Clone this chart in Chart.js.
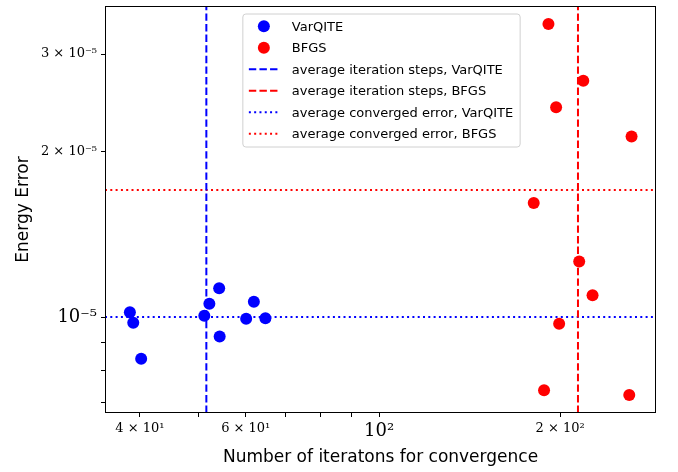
<!DOCTYPE html>
<html>
<head>
<meta charset="utf-8">
<script src="https://cdn.jsdelivr.net/npm/chart.js@4.4.1/dist/chart.umd.min.js"></script>
<style>
  html, body { margin: 0; padding: 0; background: #fff; }
  #wrap { width: 678px; height: 472px; }
</style>
</head>
<body>
<div id="wrap"><canvas id="chart"></canvas></div>
<script>
// iterations needed to converge and the final energy error, one entry per run
const varqiteIters = [38.5, 39.0, 40.2, 51.2, 52.2, 54.2, 54.3, 60.1, 61.9, 64.7];
const varqiteErrors = [1.021e-5, 0.977e-5, 0.840e-5, 1.006e-5, 1.057e-5, 1.128e-5, 0.922e-5, 0.993e-5, 1.066e-5, 0.995e-5];
const bfgsIters = [191.3, 218.6, 197.0, 263.0, 180.8, 215.2, 226.5, 199.3, 188.1, 260.7];
const bfgsErrors = [3.40e-5, 2.684e-5, 2.402e-5, 2.126e-5, 1.611e-5, 1.262e-5, 1.096e-5, 0.973e-5, 0.737e-5, 0.722e-5];

// averages (reference lines)
const varqiteAvgIter = 51.6;
const bfgsAvgIter = 214.2;
const varqiteAvgError = 1.0e-5;
const bfgsAvgError = 1.70e-5;

// axis limits
const xMin = 35.0, xMax = 288.8;
const yMin = 6.70e-6, yMax = 3.667e-5;

// tick marks and their labels ('' = unlabeled minor tick)
const xTickValues = [40, 50, 60, 70, 80, 90, 100, 200];
const xTickLabels = ['4 × 10¹', '', '6 × 10¹', '', '', '', '10²', '2 × 10²'];
const yTickValues = [7e-6, 8e-6, 9e-6, 1e-5, 2e-5, 3e-5];
const yTickLabels = ['', '', '', '10⁻⁵', '2 × 10⁻⁵', '3 × 10⁻⁵'];

const BLUE = '#0000ff';
const RED = '#ff0000';
const DASH = [7.4, 3.2];
const DOT = [2, 3.3];

function toPoints(xs, ys) {
    return xs.map((x, i) => ({ x: x, y: ys[i] }));
}

// box around the plot like matplotlib
const framePlugin = {
    id: 'frame',
    afterDatasetsDraw(chart) {
        const { ctx, chartArea: a } = chart;
        ctx.save();
        ctx.strokeStyle = '#000';
        ctx.lineWidth = 1;
        ctx.strokeRect(a.left + 0.5, a.top + 0.5, a.right - a.left - 1, a.bottom - a.top - 1);
        ctx.restore();
    }
};

// legend drawn inside the plot, upper center
const legendPlugin = {
    id: 'innerLegend',
    afterDraw(chart) {
        const { ctx, chartArea: a } = chart;
        const sets = chart.data.datasets;
        ctx.save();
        ctx.font = '13px "DejaVu Sans"';
        let maxW = 0;
        sets.forEach(d => { maxW = Math.max(maxW, ctx.measureText(d.label).width); });
        const rowH = 21.5;
        const w = 49 + maxW + 7;
        const h = sets.length * rowH + 4;
        const x0 = (a.left + a.right) / 2 - w / 2 + 1;
        const y0 = a.top + 8;

        ctx.beginPath();
        ctx.roundRect(x0, y0, w, h, 3);
        ctx.fillStyle = 'rgba(255,255,255,0.8)';
        ctx.fill();
        ctx.strokeStyle = '#d0d0d0';
        ctx.lineWidth = 1;
        ctx.stroke();

        sets.forEach((d, i) => {
            const cy = y0 + 12.3 + i * rowH;
            if (d.showLine) {
                ctx.beginPath();
                ctx.setLineDash(d.borderDash || []);
                ctx.strokeStyle = d.borderColor;
                ctx.lineWidth = d.borderWidth;
                ctx.moveTo(x0 + 6, cy);
                ctx.lineTo(x0 + 37, cy);
                ctx.stroke();
                ctx.setLineDash([]);
            } else {
                ctx.beginPath();
                ctx.arc(x0 + 21, cy, 6, 0, Math.PI * 2);
                ctx.fillStyle = d.backgroundColor;
                ctx.fill();
            }
            ctx.fillStyle = '#000';
            ctx.textBaseline = 'middle';
            ctx.fillText(d.label, x0 + 49, cy + 1);
        });
        ctx.restore();
    }
};

function vLine(label, x, color, dash) {
    return {
        label: label,
        data: [{ x: x, y: yMin }, { x: x, y: yMax }],
        showLine: true,
        pointRadius: 0,
        borderColor: color,
        borderWidth: 2,
        borderDash: dash,
        fill: false
    };
}

function hLine(label, y, color, dash) {
    return {
        label: label,
        data: [{ x: xMin, y: y }, { x: xMax, y: y }],
        showLine: true,
        pointRadius: 0,
        borderColor: color,
        borderWidth: 2,
        borderDash: dash,
        fill: false
    };
}

const ctx = document.getElementById('chart').getContext('2d');
const chart = new Chart(ctx, {
    type: 'scatter',
    data: {
        datasets: [
            {
                label: 'VarQITE',
                data: toPoints(varqiteIters, varqiteErrors),
                backgroundColor: BLUE,
                borderWidth: 0,
                pointRadius: 6
            },
            {
                label: 'BFGS',
                data: toPoints(bfgsIters, bfgsErrors),
                backgroundColor: RED,
                borderWidth: 0,
                pointRadius: 6
            },
            vLine('average iteration steps, VarQITE', varqiteAvgIter, BLUE, DASH),
            vLine('average iteration steps, BFGS', bfgsAvgIter, RED, DASH),
            hLine('average converged error, VarQITE', varqiteAvgError, BLUE, DOT),
            hLine('average converged error, BFGS', bfgsAvgError, RED, DOT)
        ]
    },
    options: {
        responsive: true,
        maintainAspectRatio: false,
        animation: false,
        layout: { padding: { left: 0, top: 3, right: 22, bottom: 0 } },
        plugins: {
            legend: { display: false },
            tooltip: { enabled: false }
        },
        scales: {
            x: {
                type: 'logarithmic',
                min: xMin,
                max: xMax,
                afterBuildTicks: s => { s.ticks = xTickValues.map(v => ({ value: v })); },
                afterFit: s => { s.height = 59; s.paddingLeft = 0; s.paddingRight = 0; },
                ticks: {
                    autoSkip: false,
                    maxRotation: 0,
                    padding: 4,
                    color: '#000',
                    font: c => ({ family: 'DejaVu Serif', size: (c.tick && c.tick.value === 100) ? 18 : 13 }),
                    callback: v => xTickLabels[xTickValues.indexOf(v)] || ''
                },
                grid: { drawOnChartArea: false, tickLength: 4, color: '#000' },
                border: { display: false },
                title: {
                    display: true,
                    text: 'Number of iteratons for convergence',
                    color: '#000',
                    font: { family: 'DejaVu Sans', size: 17 },
                    padding: { top: 0, bottom: 4 }
                }
            },
            y: {
                type: 'logarithmic',
                min: yMin,
                max: yMax,
                afterBuildTicks: s => { s.ticks = yTickValues.map(v => ({ value: v })); },
                afterFit: s => { s.width = 105; s.paddingTop = 0; s.paddingBottom = 0; },
                ticks: {
                    autoSkip: false,
                    padding: 4,
                    color: '#000',
                    font: c => ({ family: 'DejaVu Serif', size: (c.tick && c.tick.value === 1e-5) ? 18 : 13 }),
                    callback: (v, i) => yTickLabels[i] || ''
                },
                grid: { drawOnChartArea: false, tickLength: 4, color: '#000' },
                border: { display: false },
                title: {
                    display: true,
                    text: 'Energy Error',
                    color: '#000',
                    font: { family: 'DejaVu Sans', size: 17 },
                    padding: { top: 13, bottom: 0 }
                }
            }
        }
    },
    plugins: [framePlugin, legendPlugin]
});
</script>
</body>
</html>
